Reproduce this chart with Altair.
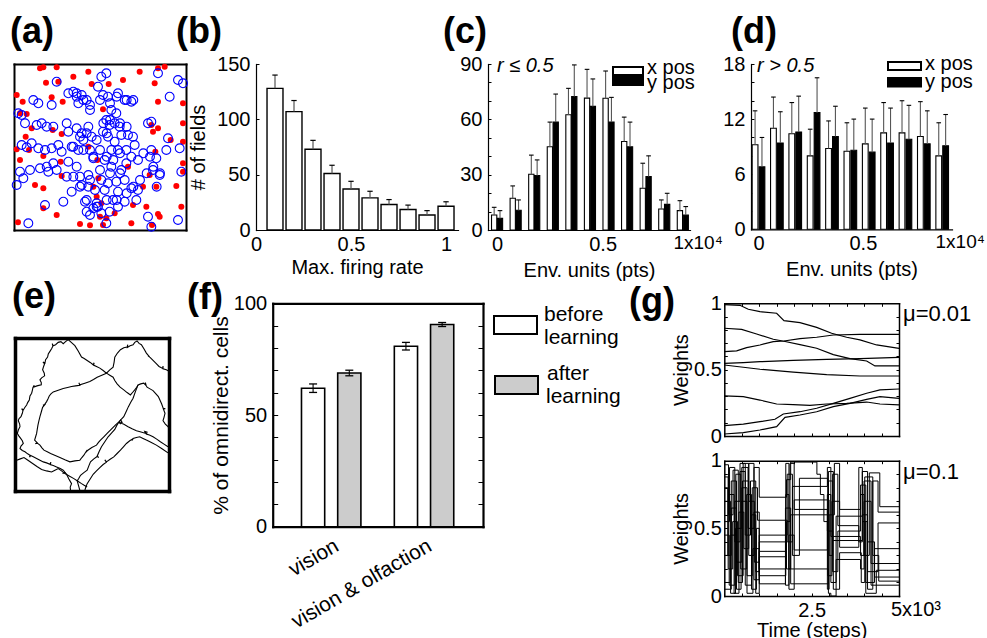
import altair as alt
import pandas as pd

W, H = 987, 638
FONT = "Liberation Sans"

# ---------------- data ----------------
# (a) arena (arena units): red = landmark cues, blue = place-field centres
a_red_x = [78, 88, 128, 96, 133, 178, 223, 233, 8, 26, 113, 146, 18, 38, 53, 116, 35, 143, 8, 223,
           45, 88, 18, 140, 250, 143, 63, 88, 253, 238, 248, 88, 128, 198, 228, 258, 12,
           377, 432, 452, 284, 327, 422, 432, 507, 267, 507, 412, 432, 417, 470, 507, 424, 507,
           342, 407, 387, 427, 487, 507, 262, 357, 397, 432, 437, 277, 302, 352, 267, 414, 502]
a_red_y = [485, 488, 488, 442, 445, 460, 475, 438, 405, 385, 398, 385, 350, 348, 305, 300, 280, 288, 242, 250,
           240, 222, 210, 205, 210, 162, 135, 125, 155, 130, 100, 65, 45, 18, 14, 40, 23,
           475, 485, 490, 438, 450, 440, 385, 380, 362, 320, 315, 305, 295, 270, 265, 235, 200,
           190, 165, 130, 130, 132, 175, 80, 75, 70, 48, 40, 35, 50, 20, 15, 15, 70]
a_blue_x = [128, 163, 178, 203, 218, 193, 228, 188, 58, 73, 113, 13, 23, 33, 68, 83, 98, 118, 158, 163,
            188, 203, 223, 208, 233, 23, 38, 53, 73, 93, 113, 133, 143, 173, 193, 228, 238, 118, 98, 78,
            48, 18, 103, 128, 163, 188, 178, 198, 223, 158, 203, 223, 243, 173, 28, 8, 93, 148, 213, 218,
            228, 248, 238, 43,
            262, 277, 432, 492, 507, 467, 252, 267, 282, 312, 332, 352, 292, 307, 277, 287, 302, 317, 322, 342,
            357, 362, 267, 282, 302, 292, 312, 337, 402, 412, 462, 497, 502, 272, 292, 322, 337, 352, 372, 412,
            427, 457, 437, 417, 262, 282, 307, 332, 352, 372, 312, 272, 297, 332, 287, 312, 367, 402, 412, 262,
            252, 277, 492,
            188, 208, 228, 258, 288, 308, 338, 358, 288, 268, 318, 338, 278, 248, 218, 198, 178, 208, 238, 258,
            278, 298, 318, 258, 288, 318, 228, 198, 218, 248, 278, 308, 338, 358, 378, 398, 418, 438, 428, 408,
            388]
a_blue_y = [445, 410, 415, 405, 390, 380, 375, 400, 390, 380, 375, 350, 345, 320, 315, 320, 310, 310, 320, 295,
            305, 290, 310, 270, 280, 255, 248, 260, 245, 240, 245, 255, 235, 250, 240, 240, 215, 200, 190, 185,
            180, 175, 175, 180, 205, 190, 160, 160, 165, 160, 135, 130, 120, 115, 155, 135, 75, 85, 85, 55,
            45, 80, 65, 20,
            460, 470, 470, 450, 440, 400, 430, 405, 400, 410, 390, 385, 360, 350, 330, 315, 320, 310, 285, 285,
            280, 255, 295, 280, 265, 240, 240, 240, 320, 325, 275, 245, 175, 210, 190, 180, 200, 220, 210, 240,
            215, 240, 165, 180, 150, 140, 145, 150, 125, 120, 115, 120, 90, 85, 55, 70, 90, 40, 10, 50,
            70, 20, 30,
            410, 390, 360, 390, 380, 400, 390, 390, 330, 320, 320, 310, 290, 270, 290, 280, 250, 240, 220, 240,
            220, 210, 230, 180, 170, 170, 150, 130, 90, 70, 90, 90, 110, 130, 150, 170, 190, 170, 130, 220,
            230]

# (b) number of fields vs max firing rate
b_rate = [0.1, 0.2, 0.3, 0.4, 0.5, 0.6, 0.7, 0.8, 0.9, 1.0]
b_count = [128, 107, 73, 51, 37, 29, 23, 18.5, 13.5, 21.5]
b_err = [12, 10, 8, 7.5, 7, 6, 4.5, 4, 4, 4]

# (c), (d) field positions (x10^4 pts)
env_bins = [0.0, 0.088, 0.176, 0.264, 0.352, 0.44, 0.528, 0.616, 0.704, 0.792, 0.88]
c_xpos = [8.1, 17.2, 30.2, 45.1, 62.5, 71.5, 71.4, 48.0, 22.6, 11.4, 10.5]
c_xerr = [4.2, 6.7, 10.4, 13.4, 14.3, 15.6, 14.8, 13.2, 13.6, 4.9, 5.4]
c_ypos = [6.3, 10.7, 29.5, 58.5, 72.4, 67.0, 58.5, 45.1, 29.0, 13.9, 8.1]
c_yerr = [4.2, 5.6, 8.5, 15.2, 17.1, 14.9, 13.4, 13.4, 11.2, 6.0, 4.6]
d_xpos = [9.2, 11.0, 10.4, 8.0, 8.8, 8.5, 9.3, 10.5, 10.5, 10.1, 8.0]
d_xerr = [3.7, 3.4, 3.4, 2.9, 3.0, 3.1, 3.9, 3.3, 3.5, 3.8, 3.6]
d_ypos = [6.8, 9.4, 10.6, 12.7, 10.1, 8.6, 8.4, 9.4, 9.8, 9.3, 9.1]
d_yerr = [3.2, 3.4, 3.9, 3.8, 3.3, 3.4, 3.6, 3.8, 3.7, 3.6, 3.4]

# (e) trajectory segments (arena units)
e_paths = [
    [(160, 452), (152, 446), (145, 440), (138, 446), (130, 444), (122, 437), (115, 434), (112, 440), (114, 433),
     (110, 425), (105, 417), (100, 409), (98, 400), (92, 392), (90, 382), (84, 385), (89, 380), (86, 372),
     (83, 362), (88, 352), (89, 344), (80, 338), (75, 332), (79, 324), (79, 317), (66, 314), (55, 310), (58, 316),
     (54, 309), (52, 300), (50, 292), (45, 284), (43, 272), (38, 264), (35, 257), (30, 250), (25, 242), (20, 246),
     (24, 240), (22, 232), (18, 222), (12, 216), (10, 210), (14, 200), (15, 192), (10, 182), (7, 172), (12, 164),
     (17, 157), (22, 150), (25, 142), (18, 134), (15, 127), (22, 121), (30, 117), (38, 111), (45, 107), (44, 101),
     (47, 106), (55, 102), (65, 97), (75, 92), (85, 87), (95, 84), (105, 80), (108, 86), (106, 79), (115, 76),
     (125, 72), (136, 67), (145, 62), (150, 56), (143, 52), (151, 55), (155, 50), (162, 36), (170, 22), (166, 12),
     (167, 2)],
    [(160, 452), (170, 443), (180, 434), (190, 418), (200, 400), (208, 396), (217, 390), (226, 384), (235, 377),
     (238, 383), (236, 376), (245, 372), (255, 367), (265, 360), (275, 352), (285, 362), (295, 370), (298, 385),
     (300, 400), (308, 412), (317, 422), (327, 428), (337, 430), (339, 437), (338, 429), (346, 434), (355, 437),
     (360, 444), (367, 448), (373, 441), (380, 437), (388, 424), (395, 412), (405, 400), (400, 404), (406, 399),
     (415, 390), (424, 381), (433, 372), (444, 366), (445, 373), (445, 365), (455, 362), (463, 358)],
    [(275, 352), (285, 346), (295, 340), (300, 330), (307, 320), (316, 310), (327, 302), (337, 294), (347, 287),
     (354, 295), (360, 302), (366, 310), (370, 317), (378, 320), (387, 322), (393, 316), (392, 324), (394, 316),
     (397, 310), (406, 305), (415, 300), (423, 291), (431, 282), (436, 271), (441, 260), (446, 246), (452, 246),
     (446, 245), (451, 232), (448, 220), (445, 210), (452, 200), (460, 192), (463, 188)],
    [(275, 352), (261, 346), (247, 340), (236, 333), (225, 327), (210, 322), (195, 317), (192, 323), (195, 316),
     (182, 314), (170, 312), (158, 309), (145, 306), (130, 301), (115, 296), (108, 290), (103, 284), (99, 275),
     (95, 267), (89, 258), (84, 256), (89, 257), (83, 250), (79, 236), (75, 222), (72, 210), (69, 197), (67, 185),
     (65, 172), (62, 162), (59, 152), (67, 144), (61, 141), (67, 143), (75, 137), (81, 129), (87, 122), (97, 117),
     (107, 112), (121, 106), (135, 100), (150, 93), (165, 87), (180, 90), (195, 92), (201, 100), (207, 107),
     (212, 115), (217, 122), (214, 116), (218, 121), (231, 130), (245, 137), (251, 145), (257, 152), (267, 162),
     (277, 172), (286, 181), (295, 190), (304, 199), (313, 207), (318, 200), (313, 206), (320, 215), (327, 222),
     (334, 237), (341, 252), (348, 265), (355, 277), (362, 297), (370, 317)],
    [(313, 207), (318, 212), (322, 205), (316, 203), (326, 200), (340, 192), (352, 186), (365, 180), (379, 176),
     (393, 172), (390, 178), (397, 176), (395, 170), (404, 167), (415, 162), (426, 155), (437, 147), (448, 140),
     (460, 132)],
    [(313, 207), (306, 196), (300, 184), (290, 173), (280, 162), (270, 147), (260, 132), (253, 118), (247, 104),
     (252, 100), (247, 103), (237, 96), (227, 87), (222, 75), (217, 62), (207, 55), (197, 47), (192, 38), (187, 30),
     (191, 16), (195, 2)],
    [(460, 114), (442, 126), (425, 137), (410, 145), (395, 152), (385, 157), (375, 162), (365, 160), (355, 157),
     (352, 151), (355, 156), (345, 150), (335, 142), (326, 132), (317, 122), (307, 112), (297, 102), (286, 95),
     (275, 87), (270, 93), (275, 86), (265, 79), (255, 70), (245, 60), (235, 50), (226, 36), (217, 22), (213, 12),
     (210, 2)],
    [(5, 92), (16, 96), (27, 100), (40, 91), (53, 82), (66, 73), (80, 64), (95, 60), (110, 57), (120, 62),
     (130, 67), (140, 60), (150, 52), (163, 45), (177, 37), (188, 30), (200, 22), (208, 17), (217, 12)],
]

# (f) % of omnidirectional cells
f_groups = [1, 2]
f_before = [62.0, 80.8]
f_before_err = [1.9, 1.7]
f_after = [68.8, 90.5]
f_after_err = [1.25, 0.9]

# (g) weights, mu = 0.01
slow_t = [
    [0, 448, 687, 1021, 1498, 1708, 2166, 2643, 3072, 3501, 3883, 4360, 5000],
    [0, 353, 639, 1021, 1402, 1708, 2166, 2643, 3120, 3883, 5000],
    [0, 496, 925, 1402, 1708, 2166, 2643, 3120, 3597, 4074, 4312, 5000],
    [0, 544, 1021, 1975, 2929, 3883, 5000],
    [0, 544, 1021, 1975, 2929, 3883, 5000],
    [0, 544, 1021, 1498, 1975, 2452, 2929, 3501, 4074, 4455, 5000],
    [0, 544, 1021, 1450, 1689, 2166, 2643, 3120, 3597, 4074, 4455, 5000],
    [0, 544, 1021, 1498, 1737, 2166, 2643, 3120, 3597, 4074, 4455, 5000],
]
slow_w = [
    [0.99, 0.985, 0.955, 0.937, 0.925, 0.869, 0.854, 0.819, 0.774, 0.744, 0.724, 0.686, 0.661],
    [0.636, 0.641, 0.666, 0.686, 0.711, 0.716, 0.734, 0.744, 0.761, 0.766, 0.766],
    [0.812, 0.804, 0.769, 0.729, 0.714, 0.688, 0.661, 0.613, 0.583, 0.565, 0.528, 0.528],
    [0.548, 0.553, 0.560, 0.570, 0.578, 0.583, 0.593],
    [0.535, 0.518, 0.503, 0.482, 0.462, 0.452, 0.452],
    [0.302, 0.296, 0.271, 0.241, 0.236, 0.231, 0.241, 0.246, 0.256, 0.241, 0.234],
    [0.078, 0.090, 0.108, 0.126, 0.166, 0.183, 0.209, 0.246, 0.284, 0.322, 0.347, 0.354],
    [0.015, 0.025, 0.045, 0.070, 0.141, 0.158, 0.183, 0.221, 0.246, 0.276, 0.296, 0.284],
]
# (g) weights, mu = 0.1
fast_t = [
    [0, 120, 250, 400, 520, 700, 850, 1000, 1780, 1900, 2650, 2750, 2850, 2950, 3000, 3150, 3300, 3900, 4000, 4150, 4450, 5000],
    [0, 100, 200, 350, 480, 650, 800, 950, 1800, 1950, 2950, 3050, 3200, 3950, 4100, 4250, 4400, 5000],
    [0, 150, 300, 450, 600, 780, 900, 1000, 1760, 1850, 2000, 3000, 3100, 3250, 3850, 3950, 4100, 4400, 5000],
    [0, 130, 280, 420, 560, 700, 850, 1000, 1780, 1880, 2000, 2950, 3100, 3250, 3900, 4050, 4300, 5000],
    [0, 170, 330, 470, 640, 780, 920, 1000, 1750, 1850, 2000, 2950, 3050, 3250, 3900, 4000, 4200, 5000],
    [0, 200, 350, 500, 650, 820, 1000, 1750, 1900, 2980, 3100, 3950, 4050, 4350, 5000],
    [0, 140, 300, 450, 600, 750, 900, 1000, 1800, 1950, 2150, 2960, 3080, 3300, 3850, 3950, 4100, 4300, 5000],
    [0, 110, 240, 380, 540, 700, 860, 1000, 1780, 1900, 2980, 3120, 3300, 3920, 4020, 4250, 4420, 5000],
    [0, 180, 320, 500, 680, 850, 1000, 1760, 1850, 2000, 2980, 3050, 3200, 3900, 4000, 4200, 5000],
]
fast_w = [
    [0.97, 0.60, 0.93, 0.10, 0.85, 0.30, 0.95, 0.73, 0.86, 0.99, 0.90, 0.75, 0.55, 0.05, 0.60, 0.98, 0.64, 0.75, 0.30, 0.91, 0.66, 0.66],
    [0.80, 0.30, 0.85, 0.05, 0.70, 0.15, 0.80, 0.56, 0.40, 0.81, 0.95, 0.10, 0.59, 0.60, 0.05, 0.85, 0.62, 0.62],
    [0.55, 0.95, 0.40, 0.92, 0.08, 0.60, 0.18, 0.33, 0.75, 0.20, 0.71, 0.30, 0.90, 0.52, 0.40, 0.92, 0.18, 0.54, 0.54],
    [0.30, 0.75, 0.02, 0.62, 0.35, 0.98, 0.12, 0.29, 0.55, 0.98, 0.64, 0.48, 0.18, 0.48, 0.82, 0.10, 0.35, 0.35],
    [0.10, 0.45, 0.90, 0.20, 0.75, 0.05, 0.50, 0.20, 0.08, 0.45, 0.34, 0.75, 0.44, 0.44, 0.30, 0.70, 0.24, 0.24],
    [0.05, 0.65, 0.25, 0.80, 0.02, 0.35, 0.09, 0.65, 0.09, 0.85, 0.41, 0.55, 0.02, 0.19, 0.19],
    [0.45, 0.08, 0.70, 0.98, 0.45, 0.85, 0.02, 0.45, 0.90, 0.30, 0.87, 0.15, 0.70, 0.36, 0.95, 0.55, 0.40, 0.14, 0.14],
    [0.88, 0.20, 0.55, 0.15, 0.98, 0.70, 0.25, 0.40, 0.20, 0.60, 0.92, 0.05, 0.32, 0.10, 0.88, 0.30, 0.11, 0.11],
    [0.70, 0.02, 0.50, 0.95, 0.50, 0.62, 0.15, 0.98, 0.05, 0.20, 0.02, 0.00, 0.27, 0.20, 0.85, 0.08, 0.08],
]


# ---------------- helpers ----------------
def ax(orient, pos, **kw):
    off = {"left": -pos, "right": pos - W, "top": -pos, "bottom": pos - H}[orient]
    d = dict(orient=orient, offset=off, grid=False, title=None,
             domainColor="black", domainWidth=1.2, domainCap="square",
             tickColor="black", tickWidth=1, labelColor="black", titleColor="black",
             labelFont=FONT, titleFont=FONT, labelFontSize=20, titleFontSize=20,
             titleFontWeight="normal", labelOverlap=False, labelFlush=False)
    d.update(kw)
    return alt.Axis(**d)


def frame_ax(orient, pos, width):
    return ax(orient, pos, labels=False, ticks=False, domainWidth=width)


def tick_ax(orient, pos, values, size=3, domain=False, width=1.2):
    return ax(orient, pos, values=values, labels=False, ticks=True, tickSize=size,
              domain=domain, domainWidth=width)


def text(t, x, y, size=20, weight="normal", style="normal", align="left"):
    return alt.Chart(pd.DataFrame({"t": [t]})).mark_text(
        align=align, baseline="alphabetic", font=FONT, fontSize=size, fontWeight=weight,
        fontStyle=style, color="black").encode(x=alt.value(x), y=alt.value(y), text="t:N")


def swatch(x1, x2, y1, y2, fill, sw=2):
    return alt.Chart(pd.DataFrame({"k": [0]})).mark_rect(fill=fill, stroke="black", strokeWidth=sw).encode(
        x=alt.value(x1), x2=alt.value(x2), y=alt.value(y1), y2=alt.value(y2))


IND = dict(x="independent", y="independent")

# ---------------- (a) ----------------
xa = alt.Scale(domain=[0, 516], range=[14, 186])
ya = alt.Scale(domain=[0, 498], range=[230, 64])
red_df = pd.DataFrame({"x": a_red_x, "y": a_red_y})
blue_df = pd.DataFrame({"x": a_blue_x, "y": a_blue_y})
a_red = alt.Chart(red_df).mark_circle(color="#ff0000", size=36, opacity=1).encode(
    x=alt.X("x:Q", scale=xa, axis=frame_ax("bottom", 230, 2)),
    y=alt.Y("y:Q", scale=ya, axis=frame_ax("left", 14, 2)))
a_blue = alt.Chart(blue_df).mark_point(shape="circle", color="#0000ff", size=78, strokeWidth=1.1, opacity=1).encode(
    x=alt.X("x:Q", scale=xa, axis=None), y=alt.Y("y:Q", scale=ya, axis=None))
a_box = alt.Chart(blue_df).mark_point(opacity=0).encode(
    x=alt.X("x:Q", scale=xa, axis=frame_ax("top", 64, 2)),
    y=alt.Y("y:Q", scale=ya, axis=frame_ax("right", 186, 2)))
panel_a = alt.layer(a_red, a_blue, a_box).resolve_axis(**IND)

# ---------------- (b) ----------------
xb = alt.Scale(domain=[0, 1.063], range=[256, 458])
yb = alt.Scale(domain=[0, 150], range=[230, 64])
b_base = alt.Chart(pd.DataFrame({"rate": b_rate, "n": b_count, "err": b_err})).transform_calculate(
    lo="datum.rate - 0.042", hi="datum.rate + 0.042", cl="datum.rate - 0.014", cr="datum.rate + 0.014",
    top="datum.n + datum.err", zero="0")
b_bars = b_base.mark_bar(fill="white", stroke="black", strokeWidth=1.4).encode(
    x=alt.X("lo:Q", scale=xb, axis=ax("bottom", 230, values=[0, 0.5, 1], format="~g", ticks=False, tickSize=0,
                                      labelPadding=4, title="Max. firing rate", titlePadding=3)),
    x2="hi:Q",
    y=alt.Y("n:Q", scale=yb, axis=ax("left", 256, values=[0, 50, 100, 150], ticks=False, tickSize=0,
                                     labelPadding=6, title="# of fields", titlePadding=8)),
    y2="zero:Q")
b_errl = b_base.mark_rule(color="#555555", strokeWidth=1.2).encode(
    x=alt.X("rate:Q", scale=xb, axis=None), y=alt.Y("n:Q", scale=yb, axis=None), y2="top:Q")
b_cap = b_base.mark_rule(color="black", strokeWidth=1.2).encode(
    x=alt.X("cl:Q", scale=xb, axis=None), x2="cr:Q", y=alt.Y("top:Q", scale=yb, axis=None))
b_ticks = b_base.mark_point(opacity=0).encode(
    x=alt.X("rate:Q", scale=xb, axis=None),
    y=alt.Y("n:Q", scale=yb, axis=tick_ax("right", 256, [0, 50, 100, 150], 3)))
panel_b = alt.layer(b_bars, b_errl, b_cap, b_ticks).resolve_axis(**IND)


# ---------------- (c), (d) ----------------
def env_panel(xv, xe, yv, ye, x_rng, dom, y_rng, ymax, ymajor, yminor, off, hw, capw, exp_dx):
    n = len(env_bins)
    df = pd.DataFrame({"bin": env_bins + env_bins, "series": ["x pos"] * n + ["y pos"] * n,
                       "val": xv + yv, "err": xe + ye})
    xs = alt.Scale(domain=dom, range=x_rng)
    ys = alt.Scale(domain=[0, ymax], range=y_rng)
    base = alt.Chart(df).transform_calculate(
        ctr=f"datum.bin + (datum.series == 'x pos' ? -1 : 1) * {off}").transform_calculate(
        lo=f"datum.ctr - {hw}", hi=f"datum.ctr + {hw}", cl=f"datum.ctr - {capw}", cr=f"datum.ctr + {capw}",
        top="datum.val + datum.err", zero="0")
    bars = base.mark_bar(stroke="black", strokeWidth=1.1).encode(
        x=alt.X("lo:Q", scale=xs, axis=ax("bottom", y_rng[0], values=[0, 0.5], format="~g", ticks=False,
                                          tickSize=0, labelPadding=4, title="Env. units (pts)", titlePadding=6)),
        x2="hi:Q",
        y=alt.Y("val:Q", scale=ys, axis=ax("left", x_rng[0], values=ymajor, ticks=False, tickSize=0,
                                           labelPadding=6)),
        y2="zero:Q",
        fill=alt.Fill("series:N", scale=alt.Scale(domain=["x pos", "y pos"], range=["white", "black"]),
                      legend=None))
    errl = base.mark_rule(color="#555555", strokeWidth=1.1).encode(
        x=alt.X("ctr:Q", scale=xs, axis=None), y=alt.Y("val:Q", scale=ys, axis=None), y2="top:Q")
    cap = base.mark_rule(color="black", strokeWidth=1.1).encode(
        x=alt.X("cl:Q", scale=xs, axis=None), x2="cr:Q", y=alt.Y("top:Q", scale=ys, axis=None))
    minor = base.mark_point(opacity=0).encode(
        x=alt.X("ctr:Q", scale=xs, axis=None),
        y=alt.Y("val:Q", scale=ys, axis=tick_ax("right", x_rng[0], yminor, 3)))
    expo = alt.Chart(pd.DataFrame({"v": [1.0], "t": ["1x10\u2074"]})).mark_text(
        align="center", baseline="top", dx=exp_dx, dy=4, font=FONT, fontSize=19, color="black").encode(
        x=alt.X("v:Q", scale=xs, axis=None), y=alt.value(y_rng[0]), text="t:N")
    return alt.layer(bars, errl, cap, minor, expo).resolve_axis(**IND)


panel_c = env_panel(c_xpos, c_xerr, c_ypos, c_yerr, [488, 690], [-0.043, 0.914], [230, 64], 90,
                    [0, 30, 60, 90], list(range(0, 91, 10)), 0.0138, 0.0125, 0.011, -10)
panel_d = env_panel(d_xpos, d_xerr, d_ypos, d_yerr, [751, 952], [-0.036, 0.927], [229.3, 64], 18,
                    [0, 6, 12, 18], list(range(0, 19, 2)), 0.0165, 0.0138, 0.011, -7)

# ---------------- (e) ----------------
xe_s = alt.Scale(domain=[0, 463], range=[15, 169])
ye_s = alt.Scale(domain=[0, 457], range=[491, 338])
e_rows = []
for k, seg in enumerate(e_paths):
    for i, (px, py) in enumerate(seg):
        e_rows.append({"seg": k, "i": i, "x": px, "y": py})
e_df = pd.DataFrame(e_rows)
e_line = alt.Chart(e_df).mark_line(color="black", strokeWidth=1.1).encode(
    x=alt.X("x:Q", scale=xe_s, axis=frame_ax("bottom", 491, 3.5)),
    y=alt.Y("y:Q", scale=ye_s, axis=frame_ax("left", 15, 3.5)),
    detail="seg:N", order="i:Q")
e_box = alt.Chart(e_df).mark_point(opacity=0).encode(
    x=alt.X("x:Q", scale=xe_s, axis=frame_ax("top", 338, 3.5)),
    y=alt.Y("y:Q", scale=ye_s, axis=frame_ax("right", 169, 3.5)))
panel_e = alt.layer(e_line, e_box).resolve_axis(**IND)

# ---------------- (f) ----------------
xf = alt.Scale(domain=[0.37, 2.635], range=[272.7, 483])
yf = alt.Scale(domain=[0, 100], range=[526.7, 303.3])
f_df = pd.DataFrame({"grp": f_groups + f_groups,
                     "cond": ["before learning"] * 2 + ["after learning"] * 2,
                     "val": f_before + f_after, "err": f_before_err + f_after_err})
f_base = alt.Chart(f_df).transform_calculate(
    ctr="datum.grp + (datum.cond == 'before learning' ? -0.195 : 0.195)").transform_calculate(
    lo="datum.ctr - 0.125", hi="datum.ctr + 0.125", cl="datum.ctr - 0.043", cr="datum.ctr + 0.043",
    top="datum.val + datum.err", bot="datum.val - datum.err", zero="0")
f_bars = f_base.mark_bar(stroke="black", strokeWidth=1.6).encode(
    x=alt.X("lo:Q", scale=xf, axis=ax("bottom", 526.7, values=[1, 2],
                                      labelExpr="datum.value == 1 ? 'vision' : 'vision & olfaction'",
                                      labelAngle=330, labelAlign="right", labelBaseline="top", ticks=False,
                                      tickSize=0, labelPadding=8, labelFontSize=21, domainWidth=2.2)),
    x2="hi:Q",
    y=alt.Y("val:Q", scale=yf, axis=ax("left", 272.7, values=[0, 50, 100], ticks=False, tickSize=0,
                                       labelPadding=6, title="% of omnidirect. cells", titleFontSize=21,
                                       titlePadding=2, domainWidth=2.2)),
    y2="zero:Q",
    fill=alt.Fill("cond:N", scale=alt.Scale(domain=["before learning", "after learning"],
                                            range=["white", "#cccccc"]), legend=None))
f_errl = f_base.mark_rule(color="black", strokeWidth=1.1).encode(
    x=alt.X("ctr:Q", scale=xf, axis=None), y=alt.Y("bot:Q", scale=yf, axis=None), y2="top:Q")
f_capt = f_base.mark_rule(color="black", strokeWidth=1.3).encode(
    x=alt.X("cl:Q", scale=xf, axis=None), x2="cr:Q", y=alt.Y("top:Q", scale=yf, axis=None))
f_capb = f_base.mark_rule(color="black", strokeWidth=1.3).encode(
    x=alt.X("cl:Q", scale=xf, axis=None), x2="cr:Q", y=alt.Y("bot:Q", scale=yf, axis=None))
f_in1 = f_base.mark_point(opacity=0).encode(
    x=alt.X("ctr:Q", scale=xf, axis=frame_ax("bottom", 303.3, 2.2)),
    y=alt.Y("val:Q", scale=yf, axis=tick_ax("right", 272.7, list(range(0, 101, 10)), 5)))
f_in2 = f_base.mark_point(opacity=0).encode(
    x=alt.X("ctr:Q", scale=xf, axis=None),
    y=alt.Y("val:Q", scale=yf, axis=tick_ax("left", 483, list(range(0, 101, 10)), 5, domain=True, width=2.2)))
panel_f = alt.layer(f_bars, f_errl, f_capt, f_capb, f_in1, f_in2).resolve_axis(**IND)

# ---------------- (g) ----------------
xg = alt.Scale(domain=[0, 5000], range=[724.3, 899])
g_xt = list(range(0, 5001, 500))
g_yt = [i / 10 for i in range(11)]


def g_panel(times, weights, y_rng, interp, sw, with_x_labels):
    rows = []
    for s, (ts, ws) in enumerate(zip(times, weights)):
        for t, w in zip(ts, ws):
            rows.append({"s": s, "t": t, "w": w})
    df = pd.DataFrame(rows)
    ys = alt.Scale(domain=[0, 1], range=y_rng)
    if with_x_labels:
        xaxis = ax("bottom", y_rng[0], values=[2500], labelExpr="'2.5'", ticks=False, tickSize=0,
                   labelPadding=4, title="Time (steps)", titlePadding=0, domainWidth=1.5)
    else:
        xaxis = frame_ax("bottom", y_rng[0], 1.5)
    lines = alt.Chart(df).mark_line(color="black", strokeWidth=sw, interpolate=interp).encode(
        x=alt.X("t:Q", scale=xg, axis=xaxis),
        y=alt.Y("w:Q", scale=ys, axis=ax("left", 724.3, values=[0, 0.5, 1], format="~g", ticks=False,
                                         tickSize=0, labelPadding=3, title="Weights", titlePadding=2,
                                         domainWidth=1.5)),
        detail="s:N")
    tk1 = alt.Chart(df).mark_point(opacity=0).encode(
        x=alt.X("t:Q", scale=xg, axis=tick_ax("top", y_rng[0], g_xt, 3)),
        y=alt.Y("w:Q", scale=ys, axis=tick_ax("right", 724.3, g_yt, 3)))
    tk2 = alt.Chart(df).mark_point(opacity=0).encode(
        x=alt.X("t:Q", scale=xg, axis=tick_ax("bottom", y_rng[1], g_xt, 3, domain=True, width=1.5)),
        y=alt.Y("w:Q", scale=ys, axis=tick_ax("left", 899, g_yt, 3, domain=True, width=1.5)))
    layers = [lines, tk1, tk2]
    if with_x_labels:
        layers.append(alt.Chart(pd.DataFrame({"v": [5000], "t": ["5x10\u00b3"]})).mark_text(
            align="left", baseline="top", dx=-8, dy=4, font=FONT, fontSize=20, color="black").encode(
            x=alt.X("v:Q", scale=xg, axis=None), y=alt.value(y_rng[0]), text="t:N"))
    return alt.layer(*layers).resolve_axis(**IND)


panel_g1 = g_panel(slow_t, slow_w, [436, 303.3], "linear", 1.2, False)
panel_g2 = g_panel(fast_t, fast_w, [596, 460.7], "step-after", 1.0, True)

# ---------------- annotations ----------------
notes = [
    text("(a)", 10, 43, 36, "bold"), text("(b)", 176, 43, 36, "bold"), text("(c)", 443, 43, 36, "bold"),
    text("(d)", 731, 43, 36, "bold"), text("(e)", 12, 308, 36, "bold"), text("(f)", 187, 309, 36, "bold"),
    text("(g)", 629, 313, 36, "bold"),
    text("r \u2264 0.5", 497, 72, 20, style="italic"), text("r > 0.5", 757, 72, 20, style="italic"),
    swatch(613, 643, 67, 75, "white"), swatch(613, 643, 77, 85, "black"),
    text("x pos", 647, 74, 20), text("y pos", 647, 89, 20),
    swatch(888, 921, 62, 70, "white"), swatch(888, 921, 78, 86.5, "black"),
    text("x pos", 925, 70, 20), text("y pos", 925, 88, 20),
    swatch(494, 537, 316, 334, "white"), swatch(495, 538, 376, 394, "#cccccc"),
    text("before", 544, 321, 21), text("learning", 544, 344, 21),
    text("after", 547, 380, 21), text("learning", 546, 403, 21),
    text("\u03bc=0.01", 903, 321, 22), text("\u03bc=0.1", 903, 479, 22),
]

chart = alt.layer(panel_a, panel_b, panel_c, panel_d, panel_e, panel_f, panel_g1, panel_g2, *notes).resolve_scale(
    x="independent", y="independent", fill="independent").resolve_axis(**IND).properties(
    width=W, height=H, autosize=alt.AutoSizeParams(type="none"), padding=0).configure(
    font=FONT, background="white").configure_view(strokeWidth=0)

chart.save("out.html", embed_options={"renderer": "svg", "actions": False})
